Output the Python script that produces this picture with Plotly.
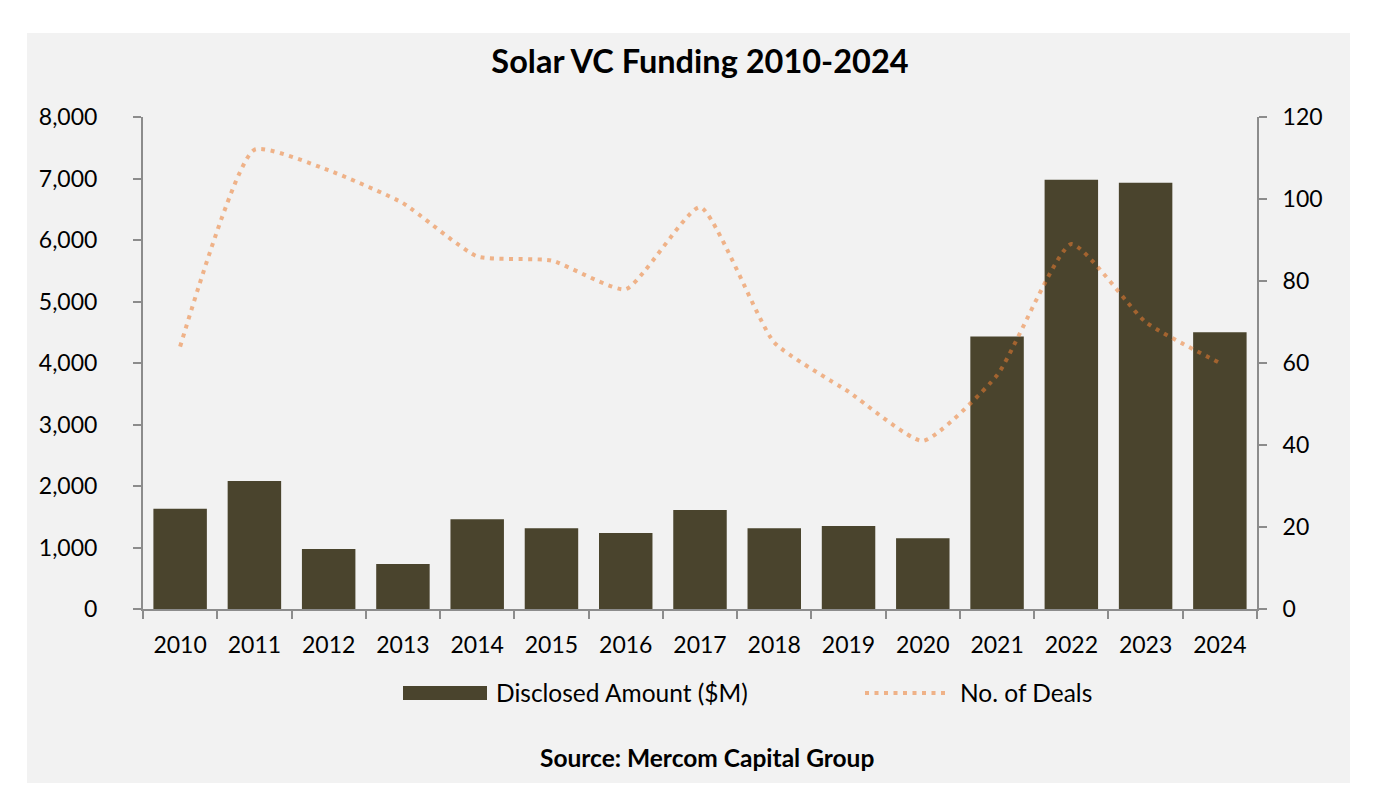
import plotly.graph_objects as go

years = ["2010", "2011", "2012", "2013", "2014", "2015", "2016", "2017",
         "2018", "2019", "2020", "2021", "2022", "2023", "2024"]
amount = [1630, 2080, 975, 730, 1460, 1315, 1235, 1610,
          1315, 1350, 1150, 4430, 6980, 6930, 4500]
deals = [64, 112, 107, 99, 86, 85, 78, 98, 65, 53, 41, 57, 89, 70, 60]

bar_color = "#4A442D"
line_color = "rgba(237,125,49,0.55)"
axis_color = "#8C8C8C"
font = "Lato"

OFF = 8
W, H = 1377, 802
L, R, T, B = 143 - OFF, 1257 - OFF, 117 - OFF, 609 - OFF


def px(x):
    return (x - OFF - L) / (R - L)


def py(y):
    return (B - (y - OFF)) / (B - T)


fig = go.Figure()
fig.add_trace(go.Bar(
    x=years, y=amount, name="Disclosed Amount ($M)",
    marker=dict(color=bar_color, line=dict(width=0)),
    showlegend=False,
))
fig.add_trace(go.Scatter(
    x=years, y=deals, name="No. of Deals", yaxis="y2", mode="lines",
    line=dict(color=line_color, width=4, dash="4px,5.5px", shape="spline", smoothing=0.5),
    showlegend=False,
))

shapes = [
    # grey chart panel
    dict(type="rect", xref="paper", yref="paper", layer="below",
         x0=px(27), x1=px(1350), y0=py(783), y1=py(33),
         fillcolor="#F2F2F2", line=dict(width=0)),
    # legend swatches
    dict(type="rect", xref="paper", yref="paper",
         x0=px(403), x1=px(487), y0=py(700), y1=py(686),
         fillcolor=bar_color, line=dict(width=0)),
    dict(type="line", xref="paper", yref="paper",
         x0=px(865), x1=px(950), y0=py(693), y1=py(693),
         line=dict(color=line_color, width=4, dash="4px,5.5px")),
]

annotations = [
    dict(text="Disclosed Amount ($M)", xref="paper", yref="paper",
         x=px(494), y=py(692), xanchor="left", yanchor="middle", showarrow=False,
         font=dict(family=font, size=24.5, color="#000000")),
    dict(text="No. of Deals", xref="paper", yref="paper",
         x=px(958), y=py(692), xanchor="left", yanchor="middle", showarrow=False,
         font=dict(family=font, size=24.5, color="#000000")),
    dict(text="<b>Source: Mercom Capital Group</b>", xref="paper", yref="paper",
         x=px(707), y=py(757), xanchor="center", yanchor="middle", showarrow=False,
         font=dict(family=font, size=24.5, color="#000000")),
]

fig.update_layout(
    width=W, height=H,
    margin=dict(l=L, r=W - R, t=T, b=H - B, pad=0),
    paper_bgcolor="#FFFFFF",
    plot_bgcolor="#F2F2F2",
    font=dict(family=font, size=23, color="#000000"),
    title=dict(text="<b>Solar VC Funding 2010-2024</b>", x=0.5, xref="paper",
               y=1 - (62 - OFF) / H, yanchor="middle",
               font=dict(family=font, size=32.5, color="#000000")),
    bargap=0.28,
    xaxis=dict(
        type="category", showgrid=False, showline=True, linecolor=axis_color, linewidth=2,
        ticks="outside", tickson="boundaries", ticklen=8, tickcolor=axis_color, tickwidth=2,
        ticklabelstandoff=14, zeroline=False,
    ),
    yaxis=dict(
        range=[0, 8000], dtick=1000, tickformat=",", showgrid=False,
        showline=True, linecolor=axis_color, linewidth=2,
        ticks="outside", ticklen=8, tickcolor=axis_color, tickwidth=2,
        ticklabelstandoff=31, zeroline=False,
    ),
    yaxis2=dict(
        range=[0, 120], dtick=20, overlaying="y", side="right", showgrid=False,
        showline=True, linecolor=axis_color, linewidth=2,
        ticks="outside", ticklen=8, tickcolor=axis_color, tickwidth=2,
        ticklabelstandoff=11, zeroline=False,
    ),
    shapes=shapes,
    annotations=annotations,
)

fig.write_html("out.html")
